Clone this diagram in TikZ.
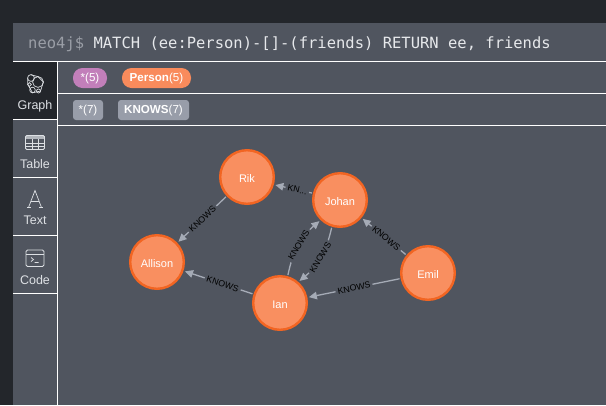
\documentclass[tikz,border=0pt]{standalone}
\usepackage{fontspec}
\setmainfont{Liberation Sans}
\newfontfamily\monof{DejaVu Sans Mono}
\usetikzlibrary{arrows.meta}
\definecolor{outer}{HTML}{23262B}
\definecolor{panel}{HTML}{50555F}
\definecolor{edgec}{HTML}{A5ABB6}
\definecolor{nodef}{HTML}{F98F60}
\definecolor{nodes}{HTML}{F26522}
\definecolor{sidet}{HTML}{DDE0E4}
\definecolor{pinkp}{HTML}{C27FBA}
\definecolor{orangep}{HTML}{F98B5C}
\definecolor{grayp}{HTML}{989DA9}
\definecolor{hdrg}{HTML}{9A9EA6}
\definecolor{hdrw}{HTML}{E6E8EB}
\tikzset{
  person/.style={circle,draw=nodes,fill=nodef,line width=2.4pt,minimum size=53.6pt,inner sep=0pt,outer sep=1.2pt,text=white,text height=11pt,text depth=0pt,font=\fontsize{11}{11}\selectfont},
  rel/.style={draw=edgec,line width=1.3pt,-{Triangle[length=8pt,width=7.5pt]},shorten >=1.5pt,shorten <=1pt},
  rellabel/.style={sloped,fill=panel,inner sep=2.2pt,text=black,font=\fontsize{8.8}{8.8}\selectfont},
  pill/.style={rounded corners=9.5pt,text=white,inner sep=0pt,minimum height=20pt,font=\fontsize{11.6}{11.6}\selectfont},
  tag/.style={rounded corners=3pt,fill=grayp,text=white,inner sep=0pt,minimum height=20pt,font=\fontsize{11.6}{11.6}\selectfont},
  sidelabel/.style={text=sidet,inner sep=0pt,font=\fontsize{12.5}{12.5}\selectfont},
  divider/.style={draw=white,line width=0.9pt},
  iconline/.style={draw=sidet,line width=0.7pt}
}
\begin{document}
\begin{tikzpicture}[x=1pt,y=-1pt]
\useasboundingbox (0,0) rectangle (606,405);
\fill[outer] (0,0) rectangle (606,405);
\fill[panel] (13,23) rectangle (606,405);
\node[anchor=base west,inner sep=0pt,font=\monof\fontsize{15.5}{15.5}\selectfont,text=hdrw] (query) at (28,48) {\textcolor{hdrg}{neo4j\$} MATCH (ee:Person)-[]-(friends) RETURN ee, friends};
\fill[outer] (13,62) rectangle (57,119);
\draw[divider] (13,61.5) -- (606,61.5);
\draw[divider] (57.5,61.5) -- (57.5,405);
\draw[divider] (57.5,93.5) -- (606,93.5);
\draw[divider] (57.5,125.5) -- (606,125.5);
\draw[divider] (13,119.5) -- (57.5,119.5);
\draw[divider] (13,177.5) -- (57.5,177.5);
\draw[divider] (13,235.5) -- (57.5,235.5);
\draw[divider] (13,293.5) -- (57.5,293.5);
\node[sidelabel] (tgraph) at (35,106.5) {Graph};
\node[sidelabel] (ttable) at (35,164.5) {Table};
\node[sidelabel] (ttext) at (35,220.5) {Text};
\node[sidelabel] (tcode) at (35,280.5) {Code};
% graph icon
\draw[iconline] (38,82) circle (5.4);
\draw[iconline] (31,78) circle (3.4);
\draw[iconline] (32.5,90) circle (2.8);
\draw[iconline] (38.5,91) circle (2);
\draw[iconline] (29.5,84.5) circle (1.8);
\draw[iconline] (31,74.8) -- (38,76.6) -- (43.4,82) -- (40.5,91) -- (32.5,92.8) -- (27.8,84.5) -- (27.6,78);
% table icon
\draw[iconline,line width=0.9pt,rounded corners=1.2pt] (25.5,135.5) rectangle (44.5,149.5);
\fill[sidet,opacity=.7] (25.5,135.5) rectangle (44.5,139);
\draw[iconline] (25.5,143) -- (44.5,143) (25.5,146.3) -- (44.5,146.3) (32,139) -- (32,149.5) (38,139) -- (38,149.5);
% A icon
\draw[iconline] (28.5,207.5) -- (35,190.5) -- (41.5,207.5);
\draw[iconline] (30.8,201.5) -- (39.2,201.5);
\draw[iconline] (27,207.5) -- (31,207.5) (39,207.5) -- (43,207.5);
% code icon
\draw[iconline,line width=0.9pt,rounded corners=1.5pt] (26,250) rectangle (44,266.5);
\draw[iconline] (26,254) -- (44,254);
\draw[iconline] (31,257.5) -- (33.5,259.5) -- (31,261.5) (34.5,262.5) -- (38.5,262.5);
% legend
\node[pill,fill=pinkp,minimum width=34pt] (p1) at (90,78) {*(5)};
\node[pill,fill=orangep,minimum width=69pt] (p2) at (156.5,78) {\textbf{Person}(5)};
\node[tag,minimum width=30pt] (t1) at (88,110) {*(7)};
\node[tag,minimum width=71pt] (t2) at (153.5,110) {\textbf{KNOWS}(7)};
\node[person] (rik) at (247,177) {Rik};
\node[person] (allison) at (157,262) {Allison};
\node[person] (ian) at (280,303) {Ian};
\node[person] (johan) at (340,200) {Johan};
\node[person] (emil) at (428,273) {Emil};
\draw[rel] (rik) -- node[rellabel,pos=.49] {KNOWS} (allison);
\draw[rel] (ian) -- node[rellabel,pos=.44] {KNOWS} (allison);
\draw[rel] (johan.166) -- node[rellabel,pos=.4] {KN...} (rik.-16);
\draw[rel] (ian.74) to[bend left=19] node[rellabel,pos=.5] {KNOWS} (johan.226);
\draw[rel] (johan.253) to[bend left=19] node[rellabel,pos=.5] {KNOWS} (ian.49);
\draw[rel] (emil) -- node[rellabel,pos=.45] {KNOWS} (johan);
\draw[rel] (emil) -- node[rellabel,pos=.5] {KNOWS} (ian);
\end{tikzpicture}
\end{document}
